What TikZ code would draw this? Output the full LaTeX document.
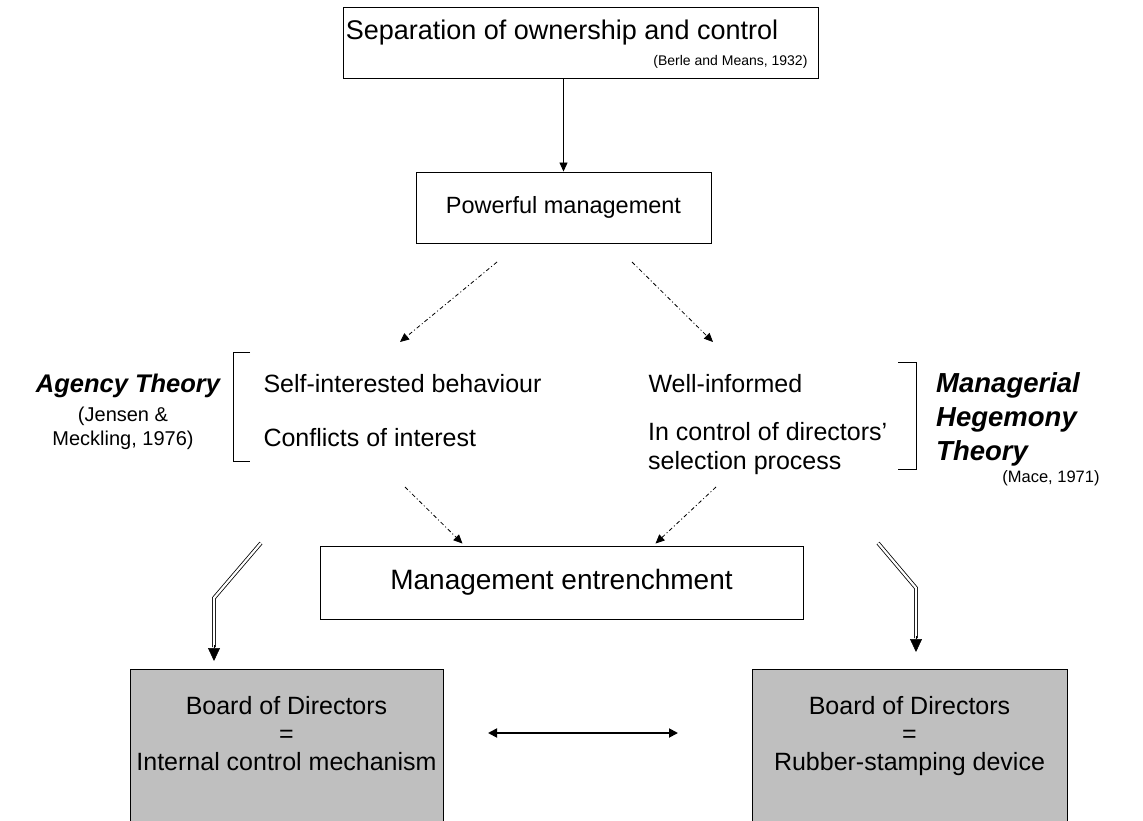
\documentclass[tikz,border=0pt]{standalone}
\usepackage{fontspec}
\setmainfont{Liberation Sans}
\usetikzlibrary{arrows.meta,calc}
\begin{document}
\begin{tikzpicture}[x=1pt,y=-1pt,
  fs/.style={font=\fontsize{#1}{#1}\selectfont},
  mid/.style={font=\fontsize{25}{29}\selectfont},
  board/.style={font=\fontsize{25}{28}\selectfont,align=center,anchor=north},
  theory/.style={font=\fontsize{#1}{34}\selectfont\bfseries\itshape},
  plainbox/.style={draw,line width=0.9pt,fill=white,inner sep=0pt},
  greybox/.style={draw,line width=0.9pt,fill=black!25,inner sep=0pt},
  solidarrow/.style={line width=0.9pt,-{Triangle[length=9pt,width=8pt]}},
  dasharrow/.style={line width=0.8pt,dash pattern=on 4pt off 2.5pt on 1pt off 2.5pt,-{Triangle[length=9pt,width=8pt]}},
  dbl/.style={double,double distance=2.2pt,line width=0.8pt},
  bracket/.style={line width=0.9pt}
]
\useasboundingbox (0,0) rectangle (1143,821);
\clip (0,0) rectangle (1143,821);

% boxes
\node[plainbox,minimum width=475pt,minimum height=71pt] (top) at (580.5,42.5) {};
\node[fs=27] (toptext) at (562,33) {Separation of ownership and control};
\node[fs=14,anchor=east] (berle) at (811,62) {(Berle and Means, 1932)};

\node[plainbox,minimum width=295pt,minimum height=71pt] (pm) at (563.5,207.5) {};
\node[fs=23.5] (pmtext) at (pm.center) {Powerful management};

\node[plainbox,minimum width=483pt,minimum height=73pt] (me) at (561.5,582.5) {};
\node[fs=28] (metext) at (me.center) {Management entrenchment};

\node[greybox,minimum width=313pt,minimum height=240pt,anchor=north] (lb) at (286.5,669) {};
\node[board] (lbtext) at ($(lb.north)+(0,24)$) {Board of Directors\\=\\Internal control mechanism};
\node[greybox,minimum width=315pt,minimum height=240pt,anchor=north] (rb) at (909.5,669) {};
\node[board] (rbtext) at ($(rb.north)+(0,24)$) {Board of Directors\\=\\Rubber-stamping device};

% middle statements
\node[mid,anchor=west] (self) at (260,384) {Self-interested behaviour};
\node[mid,anchor=west] (confl) at (260,438) {Conflicts of interest};
\node[mid,anchor=west] (well) at (645,384) {Well-informed};
\node[mid,anchor=north west,align=left,inner sep=0pt] (inctrl) at (648,422) {In control of directors'\\selection process};

% theory labels
\node[theory=25.5] (agency) at (128,386) {Agency Theory};
\node[font=\fontsize{20}{24}\selectfont,align=center] (jensen) at (123,428) {(Jensen \&\\Meckling, 1976)};
\node[theory=27.5,anchor=north west,align=left,inner sep=0pt] (mht) at (936,372) {Managerial\\Hegemony\\Theory};
\node[fs=16.5] (mace) at (1051,478) {(Mace, 1971)};

% brackets
\draw[bracket] (250,352) -- (233,352) -- (233,461) -- (250,461);
\draw[bracket] (898,362) -- (916,362) -- (916,469) -- (898,469);

% connectors
\draw[solidarrow] (top.south -| pm.north) -- (pm.north);

\coordinate (d1s) at (497,262);
\coordinate (d1e) at (400,342);
\coordinate (d2s) at (632,262);
\coordinate (d2e) at (713,342);
\draw[dasharrow] (d1s) -- (d1e);
\draw[dasharrow] (d2s) -- (d2e);

\coordinate (d3s) at (405,487);
\coordinate (d4s) at (716,487);
\draw[dasharrow] (d3s) -- ($(me.north)+(-99,-2)$);
\draw[dasharrow] (d4s) -- ($(me.north)+(94,-2)$);

% double arrows into the board boxes
\coordinate (l1) at (261,543);
\coordinate (l2) at (214,598);
\coordinate (r1) at (878,543);
\coordinate (r2) at (916,588);
\draw[dbl] (l1) -- (l2) -- ($(l2 |- lb.north)+(0,-22)$);
\draw[line width=0.5pt,-{Triangle[length=13pt,width=12pt]}] ($(l2 |- lb.north)+(0,-24)$) -- ($(l2 |- lb.north)+(0,-8)$);
\draw[dbl] (r1) -- (r2) -- ($(r2 |- rb.north)+(0,-31)$);
\draw[line width=0.5pt,-{Triangle[length=13pt,width=12pt]}] ($(r2 |- rb.north)+(0,-33)$) -- ($(r2 |- rb.north)+(0,-17)$);

% two-headed arrow between the boards
\coordinate (b1) at (488,733);
\coordinate (b2) at (678,733);
\draw[line width=1.8pt,{Triangle[length=9pt,width=9pt]}-{Triangle[length=9pt,width=9pt]}] (b1) -- (b2);
\end{tikzpicture}
\end{document}
